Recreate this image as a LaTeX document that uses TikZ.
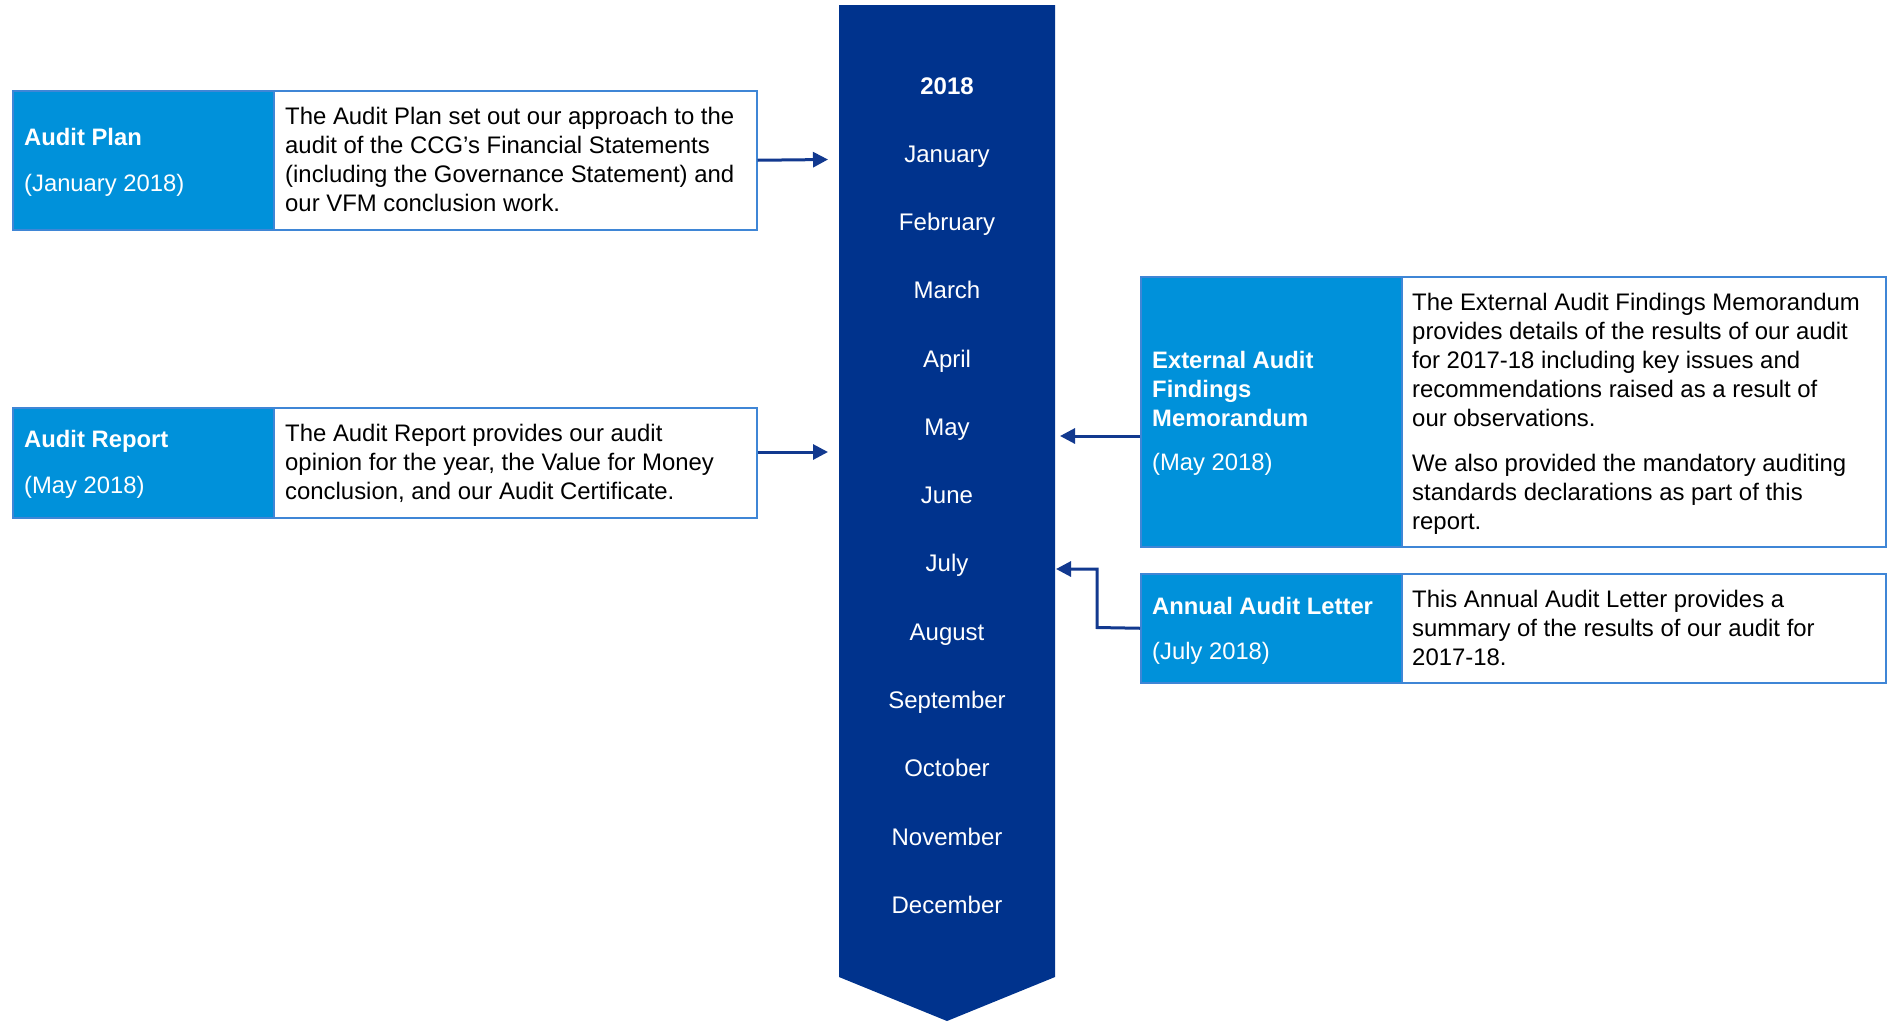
\documentclass[tikz,border=0pt]{standalone}
\usepackage{fontspec}
\setmainfont{Liberation Sans}
\usetikzlibrary{arrows.meta}
\definecolor{kdark}{HTML}{00338D}
\definecolor{kblue}{HTML}{0091DA}
\definecolor{kedge}{HTML}{3F86D6}
\definecolor{karrow}{HTML}{12398F}
\begin{document}
\begin{tikzpicture}[x=1pt,y=-1pt,
  lbox/.style={fill=kblue, draw=kedge, line width=1.5pt, anchor=north west, inner sep=0},
  rbox/.style={fill=white, draw=kedge, line width=1.5pt, anchor=north west, inner sep=0},
  ttl/.style={anchor=base west, inner sep=0, text=white, font=\fontsize{23.8}{29}\selectfont\bfseries},
  subt/.style={anchor=base west, inner sep=0, text=white, font=\fontsize{23.8}{29}\selectfont},
  body/.style={anchor=base west, inner sep=0, text=black, font=\fontsize{23.9}{29}\selectfont},
  month/.style={anchor=base, inner sep=0, text=white, font=\fontsize{24}{28}\selectfont},
  conn/.style={draw=karrow, line width=3pt, -{Triangle[length=15pt,width=15pt]}},
]
\useasboundingbox (0,0) rectangle (1887,1021);

% timeline bar
\fill[kdark] (839,5) -- (1055,5) -- (1055,977) -- (947,1021) -- (839,977) -- cycle;
\node[month, font=\fontsize{24}{28}\selectfont\bfseries] (yr) at (947,94) {2018};
\foreach \m [count=\i] in {January,February,March,April,May,June,July,August,September,October,November,December}
  \node[month] (m\i) at (947,{162.3+68.27*(\i-1)}) {\m};

% Audit Plan
\node[lbox, minimum width=261, minimum height=139] (planL) at (12,90) {};
\node[rbox, minimum width=483, minimum height=139] (planR) at (273,90) {};
\node[ttl] (planT) at (24,145) {Audit Plan};
\node[subt] (planS) at (24,191) {(January 2018)};
\node[body] (planB) at (285,124) {\parbox[t]{470pt}{\raggedright
The Audit Plan set out our approach to the\\
audit of the CCG’s Financial Statements\\
(including the Governance Statement) and\\
our VFM conclusion work.}};

% Audit Report
\node[lbox, minimum width=261, minimum height=110] (repL) at (12,407) {};
\node[rbox, minimum width=483, minimum height=110] (repR) at (273,407) {};
\node[ttl] (repT) at (24,447) {Audit Report};
\node[subt] (repS) at (24,493) {(May 2018)};
\node[body] (repB) at (285,441) {\parbox[t]{470pt}{\raggedright
The Audit Report provides our audit\\
opinion for the year, the Value for Money\\
conclusion, and our Audit Certificate.}};

% External Audit Findings Memorandum
\node[lbox, minimum width=261, minimum height=270] (extL) at (1140,276) {};
\node[rbox, minimum width=484, minimum height=270] (extR) at (1401,276) {};
\node[ttl] (extT) at (1152,368) {\parbox[t]{240pt}{\raggedright
External Audit\\
Findings\\
Memorandum}};
\node[subt] (extS) at (1152,470) {(May 2018)};
\node[body] (extB) at (1412,310) {\parbox[t]{470pt}{\raggedright
The External Audit Findings Memorandum\\
provides details of the results of our audit\\
for 2017-18 including key issues and\\
recommendations raised as a result of\\
our observations.\\[16pt]
We also provided the mandatory auditing\\
standards declarations as part of this\\
report.}};

% Annual Audit Letter
\node[lbox, minimum width=261, minimum height=109] (annL) at (1140,573) {};
\node[rbox, minimum width=484, minimum height=109] (annR) at (1401,573) {};
\node[ttl] (annT) at (1152,614) {Annual Audit Letter};
\node[subt] (annS) at (1152,659) {(July 2018)};
\node[body] (annB) at (1412,607) {\parbox[t]{470pt}{\raggedright
This Annual Audit Letter provides a\\
summary of the results of our audit for\\
2017-18.}};

% connectors
\coordinate (planTip) at (828,159.5);
\coordinate (repTip) at (828,452);
\coordinate (extTip) at (1060,436);
\coordinate (annBend) at (1097,627.5);
\coordinate (annTip) at (1056,569);
\draw[conn] (planR.east) -- (planTip);
\draw[conn] (repR.east |- repTip) -- (repTip);
\draw[conn] (extL.west |- extTip) -- (extTip);
\draw[conn] (annL.west) -- (annBend) |- (annTip);
\end{tikzpicture}
\end{document}
